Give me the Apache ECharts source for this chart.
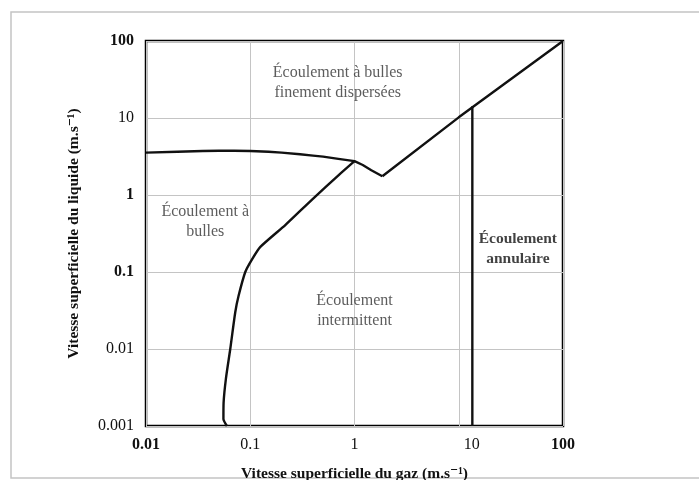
<!DOCTYPE html>
<html>
<head>
<meta charset="utf-8">
<script src="https://cdn.jsdelivr.net/npm/echarts@6/dist/echarts.min.js"></script>
<style>
html,body{margin:0;padding:0;background:#fff;}
#chart{width:699px;height:480px;}
</style>
</head>
<body>
<div id="chart"></div>
<script>
// ---- data ----
var xTickLabels = ['0.01', '0.1', '1', '10', '100'];
var yTickLabels = ['0.001', '0.01', '0.1', '1', '10', '100'];

// upper boundary of bubbly flow (bubbly -> dispersed / intermittent)
var curve1X = [0.01, 0.02, 0.035, 0.05, 0.07, 0.1, 0.15, 0.2, 0.3, 0.4, 0.5, 0.7, 1.0, 1.2, 1.45, 1.85];
var curve1Y = [3.55, 3.65, 3.72, 3.75, 3.76, 3.72, 3.64, 3.55, 3.38, 3.25, 3.15, 2.95, 2.75, 2.45, 2.1, 1.75];

// dispersed / intermittent-annular boundary (diagonal)
var diagX = [1.85, 10, 100];
var diagY = [1.75, 10.2, 100];

// bubbly / intermittent boundary
var curve2X = [0.0597, 0.0553, 0.0555, 0.0584, 0.0643, 0.0718, 0.0772, 0.0896, 0.104, 0.125, 0.218, 0.394, 0.714, 1.0];
var curve2Y = [0.001, 0.00123, 0.002, 0.0041, 0.01, 0.030, 0.0487, 0.1, 0.146, 0.212, 0.41, 0.88, 1.84, 2.75];

// intermittent / annular boundary (vertical)
var vertX = [13.5, 13.5];
var vertY = [0.001, 14.2];

// region labels
var regionNames = ['Écoulement à bulles\nfinement dispersées', 'Écoulement à\nbulles', 'Écoulement\nintermittent', 'Écoulement\nannulaire'];
var regionX = [0.69, 0.037, 1.0, 36.9];
var regionY = [28.6, 0.45, 0.031, 0.2];
var regionBold = [false, false, false, true];

// ---- build ----
function zip(xs, ys) { return xs.map(function (x, i) { return [x, ys[i]]; }); }
function logIdx(v) { return Math.round(Math.log10(v)); }

var FONT = '"Liberation Serif", "DejaVu Serif", serif';
var lineStyle = { color: '#111', width: 2.4 };

var chart = echarts.init(document.getElementById('chart'), null, { renderer: 'canvas' });

var option = {
  backgroundColor: '#fff',
  animation: false,
  graphic: [{
    type: 'rect',
    shape: { x: 11, y: 12, width: 700, height: 466 },
    style: { fill: 'none', stroke: '#c4c4c4', lineWidth: 1.5 },
    silent: true, z: -1
  }],
  grid: {
    left: 146, right: 136, top: 41, bottom: 54,
    outerBoundsMode: 'none', containLabel: false,
    show: true, borderColor: '#000', borderWidth: 2.5, backgroundColor: 'transparent'
  },
  xAxis: {
    type: 'log', logBase: 10, min: 0.01, max: 100, interval: 1,
    axisLine: { show: false }, axisTick: { show: false },
    splitLine: { show: true, lineStyle: { color: '#c4c4c4', width: 1 } },
    axisLabel: {
      margin: 11, fontFamily: FONT, fontSize: 16, color: '#111',
      formatter: function (v) {
        var s = xTickLabels[logIdx(v) + 2];
        if (s === '10') return '{sh|' + s + '}';
        if (s === '0.01' || s === '100') return '{b|' + s + '}';
        return s;
      },
      rich: {
        b: { fontFamily: FONT, fontSize: 16, fontWeight: 'bold', color: '#111' },
        sh: { fontFamily: FONT, fontSize: 16, color: '#111', padding: [0, 0, 0, 26] }
      }
    },
    name: 'Vitesse superficielle du gaz (m.s\u207B\u00B9)',
    nameLocation: 'middle', nameGap: 40,
    nameTextStyle: { fontFamily: FONT, fontSize: 15.5, fontWeight: 'bold', color: '#111' }
  },
  yAxis: {
    type: 'log', logBase: 10, min: 0.001, max: 100, interval: 1,
    axisLine: { show: false }, axisTick: { show: false },
    splitLine: { show: true, lineStyle: { color: '#c4c4c4', width: 1 } },
    axisLabel: {
      margin: 12, fontFamily: FONT, fontSize: 16, color: '#111',
      formatter: function (v) {
        var s = yTickLabels[logIdx(v) + 3];
        if (s === '100' || s === '1' || s === '0.1') return '{b|' + s + '}';
        return s;
      },
      rich: { b: { fontFamily: FONT, fontSize: 16, fontWeight: 'bold', color: '#111' } }
    },
    name: 'Vitesse superficielle du liquide (m.s\u207B\u00B9)',
    nameLocation: 'middle', nameGap: 64, nameRotate: 90,
    nameTextStyle: { fontFamily: FONT, fontSize: 15.5, fontWeight: 'bold', color: '#111' }
  },
  series: [
    { type: 'line', data: zip(curve1X, curve1Y), showSymbol: false, lineStyle: lineStyle, z: 5 },
    { type: 'line', data: zip(diagX, diagY), showSymbol: false, lineStyle: lineStyle, z: 5 },
    { type: 'line', data: zip(curve2X, curve2Y), smooth: 0.2, showSymbol: false, lineStyle: lineStyle, z: 5 },
    { type: 'line', data: zip(vertX, vertY), showSymbol: false, lineStyle: lineStyle, z: 5 },
    {
      type: 'scatter', symbolSize: 0, z: 6,
      data: regionNames.map(function (n, i) {
        return {
          value: [regionX[i], regionY[i]],
          label: {
            show: true, position: 'inside', formatter: n,
            fontFamily: FONT, fontSize: regionBold[i] ? 15.5 : 16,
            fontWeight: regionBold[i] ? 'bold' : 'normal',
            color: regionBold[i] ? '#111' : '#333', lineHeight: 20, align: 'center', verticalAlign: 'middle'
          }
        };
      })
    }
  ]
};
chart.setOption(option);
</script>
</body>
</html>
